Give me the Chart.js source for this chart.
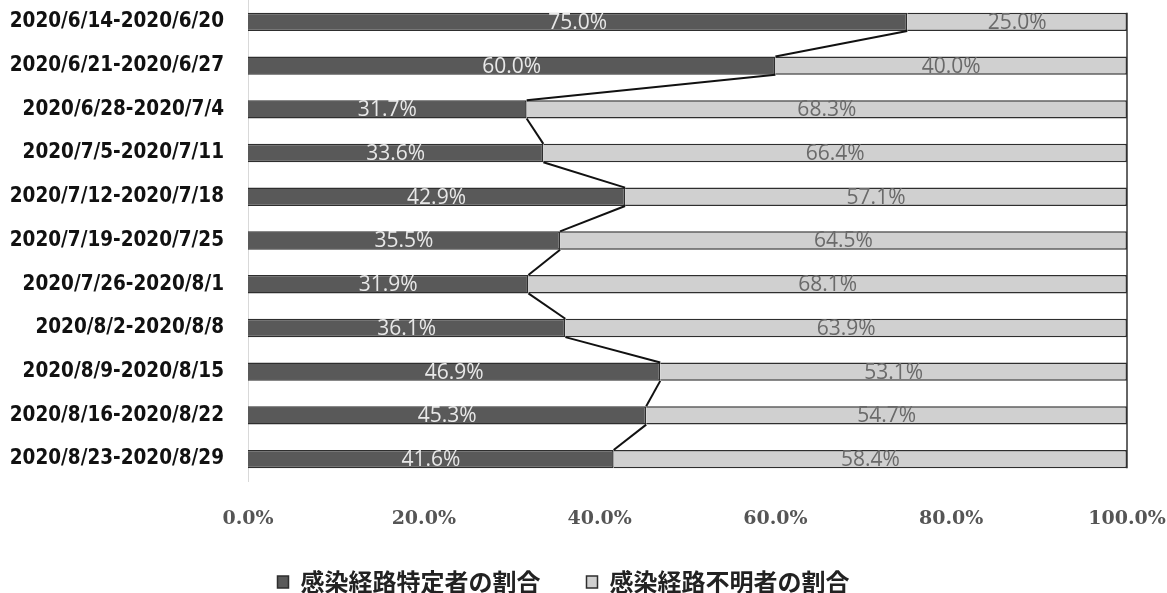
<!DOCTYPE html>
<html><head><meta charset="utf-8">
<script src="https://cdn.jsdelivr.net/npm/chart.js@4/dist/chart.umd.min.js"></script>
<style>html,body{margin:0;padding:0;background:#fff}#wrap{width:1167px;height:593px}</style>
</head><body><div id="wrap"><canvas id="c"></canvas></div>
<script>
const categories = ["2020/6/14-2020/6/20","2020/6/21-2020/6/27","2020/6/28-2020/7/4","2020/7/5-2020/7/11","2020/7/12-2020/7/18","2020/7/19-2020/7/25","2020/7/26-2020/8/1","2020/8/2-2020/8/8","2020/8/9-2020/8/15","2020/8/16-2020/8/22","2020/8/23-2020/8/29"];
const identified = [75.0,60.0,31.7,33.6,42.9,35.5,31.9,36.1,46.9,45.3,41.6];
const unknown = [25.0,40.0,68.3,66.4,57.1,64.5,68.1,63.9,53.1,54.7,58.4];
const seriesNames = ["感染経路特定者の割合","感染経路不明者の割合"];
const xTicks = [0,20,40,60,80,100];

const overlay = {
  id:'overlay',
  afterDatasetsDraw(chart){
    const ctx = chart.ctx, xs = chart.scales.x;
    const m0 = chart.getDatasetMeta(0), m1 = chart.getDatasetMeta(1);
    ctx.save();
    ctx.strokeStyle = '#111'; ctx.lineWidth = 2;
    for (let i=0;i<m0.data.length-1;i++){
      const a = m0.data[i], b = m0.data[i+1];
      ctx.beginPath();
      ctx.moveTo(a.x, a.y + a.height/2);
      ctx.lineTo(b.x, b.y - b.height/2);
      ctx.stroke();
    }
    const first = m1.data[0], last = m1.data[m1.data.length-1];
    const xr = xs.getPixelForValue(100);
    ctx.strokeStyle = '#333'; ctx.lineWidth = 1.5;
    ctx.beginPath(); ctx.moveTo(xr, first.y - first.height/2); ctx.lineTo(xr, last.y + last.height/2); ctx.stroke();
    ctx.font = '21px "Open Sans"';
    ctx.textAlign = 'center'; ctx.textBaseline = 'middle';
    m0.data.forEach((el,i)=>{
      ctx.fillStyle = '#e8e8e8';
      ctx.fillText(identified[i].toFixed(1)+'%', (el.base+el.x)/2, el.y+1);
    });
    m1.data.forEach((el,i)=>{
      ctx.fillStyle = '#6a6a6a';
      ctx.fillText(unknown[i].toFixed(1)+'%', (el.base+el.x)/2, el.y+1);
    });
    ctx.restore();
  }
};

new Chart(document.getElementById('c'), {
  type:'bar',
  data:{
    labels: categories,
    datasets:[
      {label:seriesNames[0], data:identified, backgroundColor:'#595959', borderColor:'#2e2e2e', borderWidth:1.5, barPercentage:0.42, categoryPercentage:1},
      {label:seriesNames[1], data:unknown, backgroundColor:'#d0d0d0', borderColor:'#2e2e2e', borderWidth:1.5, barPercentage:0.42, categoryPercentage:1}
    ]
  },
  options:{
    indexAxis:'y',
    responsive:true, maintainAspectRatio:false, animation:false,
    layout:{padding:{left:0,right:40,top:0,bottom:-11}},
    plugins:{
      tooltip:{enabled:false},
      legend:{
        position:'bottom',
        labels:{
          font:{family:'"Noto Sans CJK JP"', size:24, weight:'bold'},
          color:'#222', boxWidth:11, boxHeight:12, padding:46
        }
      }
    },
    scales:{
      x:{
        stacked:true, min:0, max:100,
        afterBuildTicks(s){ s.ticks = xTicks.map(v=>({value:v})); },
        afterFit(s){ s.height = 43; s.paddingLeft = 0; s.paddingRight = 0; },
        grid:{display:false, drawTicks:false},
        border:{display:false},
        ticks:{padding:27, color:'#555', font:{family:'"DejaVu Serif"', size:19, weight:'bold'},
          callback:(v)=>Number(v).toFixed(1)+'%'}
      },
      y:{
        stacked:true,
        afterFit(s){ s.width = 248; s.paddingTop = 0; s.paddingBottom = 0; },
        grid:{display:false, drawTicks:false},
        border:{display:true, color:'#d9d9d9', width:1},
        ticks:{padding:24, color:'#111', font:{family:'"DejaVu Sans Condensed"', size:20.5, weight:'bold'}}
      }
    }
  },
  plugins:[overlay]
});
</script></body></html>
